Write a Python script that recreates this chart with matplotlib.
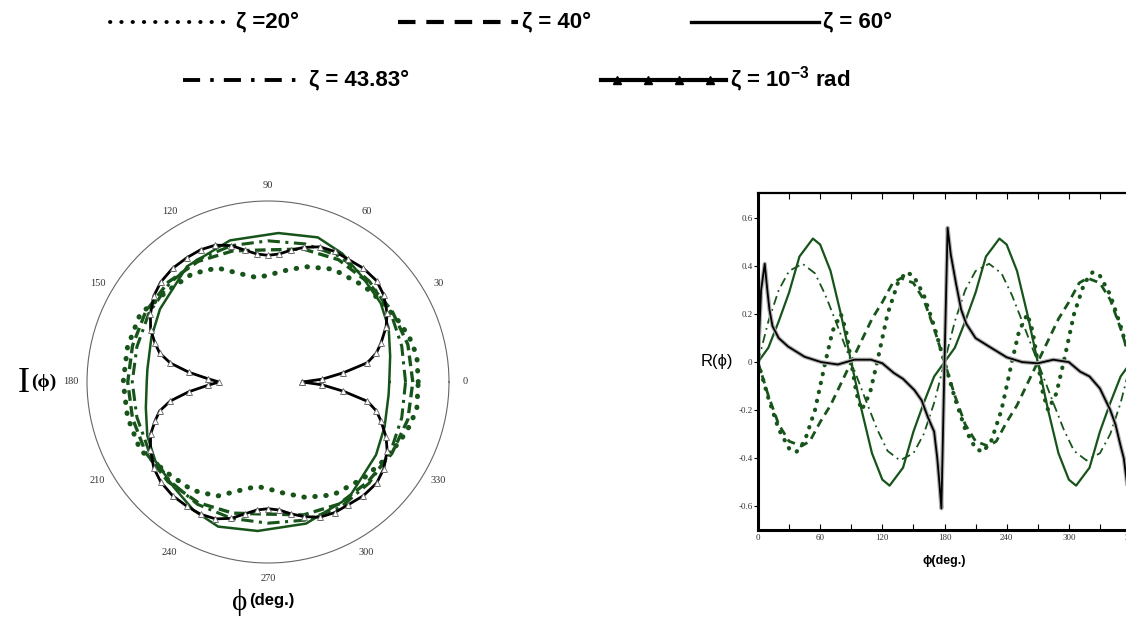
import numpy as np
import matplotlib
matplotlib.use("Agg")
import matplotlib.pyplot as plt
from matplotlib.lines import Line2D
import matplotlib.patheffects as pe

plt.rcParams["axes.unicode_minus"] = False
plt.rcParams["mathtext.fontset"] = "custom"
plt.rcParams["mathtext.bf"] = "Liberation Sans:bold"
plt.rcParams["mathtext.default"] = "bf"

GREEN = "#17541a"
SERIF = ["Liberation Serif", "DejaVu Serif"]
SANS = ["Liberation Sans", "DejaVu Sans"]

# ---------- left: I(phi), read for 0..180 deg (lower half is the mirror) ----------
i_z20_deg = [0, 10, 17, 24, 35, 45, 60, 72, 82, 90, 96, 103, 114, 125, 138, 152, 166, 180]
i_z20 = [0.83, 0.835, 0.82, 0.80, 0.77, 0.75, 0.72, 0.67, 0.62, 0.59, 0.58, 0.61, 0.69, 0.73, 0.75, 0.80, 0.80, 0.80]
i_deg = [0, 15, 30, 45, 60, 75, 90, 105, 120, 135, 150, 165, 180]
i_z40 = [0.80, 0.80, 0.79, 0.78, 0.78, 0.76, 0.73, 0.75, 0.77, 0.78, 0.78, 0.775, 0.775]
i_z4383 = [0.76, 0.765, 0.78, 0.79, 0.80, 0.79, 0.78, 0.78, 0.78, 0.77, 0.76, 0.75, 0.75]
i_small_deg = [0, 3, 7, 11, 15, 19, 25, 30, 37, 43, 50, 57, 63, 69, 75, 80, 85, 90, 95, 100,
               105, 111, 117, 123, 130, 137, 143, 150, 156, 161, 165, 169, 173, 177, 180]
i_small = [0.19, 0.30, 0.42, 0.56, 0.62, 0.66, 0.72, 0.76, 0.80, 0.82, 0.82, 0.81, 0.81, 0.80, 0.77, 0.74, 0.71, 0.70, 0.71, 0.74,
           0.78, 0.81, 0.82, 0.82, 0.82, 0.81, 0.79, 0.75, 0.71, 0.66, 0.62, 0.55, 0.44, 0.33, 0.27]
# zeta = 60 deg repeats every 180 deg
i_z60_deg = [0, 12, 24, 35, 48, 60, 71, 86, 105, 125, 146, 159, 174, 180]
i_z60 = [0.67, 0.69, 0.73, 0.76, 0.78, 0.82, 0.845, 0.825, 0.81, 0.78, 0.72, 0.69, 0.67, 0.67]

# ---------- right: R(phi), read for 0..180 deg (repeats every 180 deg) ----------
r_z20_deg = [0, 10, 20, 30, 37, 45, 55, 65, 72, 80, 85, 90, 95, 100, 108, 115, 125, 135, 143, 150, 160, 170, 180]
r_z20 = [0, -0.15, -0.28, -0.36, -0.375, -0.33, -0.2, 0, 0.13, 0.2, 0.13, 0, -0.13, -0.2, -0.13, 0, 0.2, 0.33, 0.375, 0.36, 0.28, 0.15, 0]
r_z40_deg = [0, 10, 20, 30, 42, 50, 60, 70, 80, 90, 100, 110, 120, 130, 138, 150, 160, 170, 180]
r_z40 = [0, -0.14, -0.26, -0.33, -0.35, -0.33, -0.25, -0.18, -0.09, 0, 0.09, 0.18, 0.25, 0.33, 0.35, 0.33, 0.26, 0.14, 0]
r_z60_deg = [0, 10, 20, 30, 40, 53, 60, 70, 80, 90, 100, 110, 120, 127, 140, 150, 160, 170, 180]
r_z60 = [0, 0.06, 0.17, 0.29, 0.44, 0.515, 0.49, 0.38, 0.2, 0, -0.2, -0.38, -0.49, -0.515, -0.44, -0.29, -0.17, -0.06, 0]
r_z4383_deg = [0, 10, 20, 30, 43, 55, 65, 75, 90, 105, 115, 125, 137, 150, 160, 170, 180]
r_z4383 = [0, 0.17, 0.3, 0.38, 0.41, 0.37, 0.28, 0.17, 0, -0.17, -0.28, -0.37, -0.41, -0.38, -0.3, -0.17, 0]
r_small_deg = [0, 3, 6.5, 9, 11, 14, 20, 29, 45, 61, 77, 93, 109, 120, 131, 140, 151, 158, 164, 170, 173, 175, 177,
               180, 183, 186, 191, 196, 201, 210, 223, 240, 255, 270, 285, 300, 311, 320, 330, 340, 345, 350, 353, 356, 358, 360]
r_small = [0, 0.3, 0.41, 0.3, 0.22, 0.15, 0.1, 0.065, 0.022, 0.0, -0.01, 0.01, 0.01, -0.005, -0.045, -0.07, -0.117, -0.16, -0.23, -0.29, -0.4, -0.5, -0.61,
           0.0, 0.56, 0.45, 0.33, 0.22, 0.16, 0.1, 0.065, 0.02, 0.0, -0.005, 0.01, 0.0, -0.04, -0.06, -0.11, -0.2, -0.26, -0.35, -0.4, -0.5, -0.6, 0]

legend_labels = ["ζ =20°", "ζ = 40°", "ζ = 60°", "ζ = 43.83°", r"ζ = 10$^{-3}$ rad"]


def mirror(deg, val):
    d = list(deg) + [360 - a for a in deg[-2::-1]]
    v = list(val) + list(val[-2::-1])
    return np.radians(d), np.array(v)


def repeat(deg, val):
    d = list(deg) + [a + 180 for a in deg[1:]]
    v = list(val) + list(val[1:])
    return np.array(d), np.array(v)


fig = plt.figure(figsize=(11.26, 6.19), dpi=100)

# ---------------- polar panel ----------------
ax = fig.add_axes([87 / 1126, 56 / 619, 362 / 1126, 362 / 619], projection="polar")
t, r = mirror(i_z20_deg, i_z20)
ax.plot(t, r, color=GREEN, lw=3.6, ls=(0, (0.1, 2.1)), dash_capstyle="round")
t, r = mirror(i_deg, i_z40)
ax.plot(t, r, color=GREEN, lw=2.4, ls=(0, (3.2, 1.6)))
t, r = mirror(i_deg, i_z4383)
ax.plot(t, r, color=GREEN, lw=2.2, ls=(0, (4, 1.8, 1, 1.8)))
d, r = repeat(i_z60_deg, i_z60)
ax.plot(np.radians(d), r, color=GREEN, lw=1.8)
t, r = mirror(i_small_deg, i_small)
ax.plot(t, r, color="black", lw=2.0, marker="^", ms=4, mfc="white", mec="#666666", mew=0.6)
ax.set_rlim(0, 1)
ax.set_yticks([])
ax.grid(False)
ax.set_thetagrids(range(0, 360, 30), labels=[str(a) for a in range(0, 360, 30)],
                  family=SERIF, fontsize=7.5, color="#333333")
ax.tick_params(axis="x", pad=1)
ax.spines["polar"].set_color("#666666")
ax.spines["polar"].set_linewidth(0.8)

fig.text(18 / 1126, 1 - 384 / 619, "I", family=SERIF, fontsize=26, va="center", ha="left")
fig.text(31 / 1126, 1 - 382 / 619, "(ϕ)", family=SERIF, fontsize=14, fontweight="bold", va="center", ha="left")
fig.text(232 / 1126, 1 - 603 / 619, "ϕ", family=SERIF, fontsize=21, va="center", ha="left")
fig.text(249 / 1126, 1 - 601 / 619, "(deg.)", family=SANS, fontsize=12, fontweight="bold", va="center", ha="left")

# ---------------- cartesian panel ----------------
bx = fig.add_axes([758 / 1126, 89 / 619, 373 / 1126, 337 / 619])
d, v = repeat(r_z20_deg, r_z20)
bx.plot(d, v, color=GREEN, lw=3.0, ls=(0, (0.1, 2.1)), dash_capstyle="round")
d, v = repeat(r_z40_deg, r_z40)
bx.plot(d, v, color=GREEN, lw=2.0, ls=(0, (3, 2)))
d, v = repeat(r_z4383_deg, r_z4383)
bx.plot(d, v, color=GREEN, lw=1.3, ls=(0, (5, 2.5, 1, 2.5)))
d, v = repeat(r_z60_deg, r_z60)
bx.plot(d, v, color=GREEN, lw=1.6)
bx.plot(r_small_deg, r_small, color="black", lw=1.3,
        path_effects=[pe.Stroke(linewidth=3.0, foreground="#b0b0b0"), pe.Normal()])
bx.set_xlim(0, 360)
bx.set_ylim(-0.7, 0.705)
bx.set_xticks(range(0, 361, 60))
bx.set_xticks(range(0, 361, 30), minor=True)
bx.set_yticks([-0.6, -0.4, -0.2, 0, 0.2, 0.4, 0.6])
bx.set_yticklabels(["-0.6", "-0.4", "-0.2", "0", "0.2", "0.4", "0.6"])
bx.tick_params(axis="x", which="both", direction="in", top=True, length=4, width=0.8,
               labelsize=6.5, labelcolor="#333333", pad=3)
bx.tick_params(axis="y", direction="out", length=3, width=0.8, labelsize=6.5, labelcolor="#333333", pad=1)
for lab in bx.get_xticklabels() + bx.get_yticklabels():
    lab.set_family(SERIF)
sec = bx.secondary_yaxis("right")
sec.set_yticks([-0.6, -0.4, -0.2, 0, 0.2, 0.4, 0.6])
sec.tick_params(direction="in", length=3, labelright=False)
for side, w in [("left", 2.2), ("bottom", 2.2), ("top", 1.6), ("right", 1.6)]:
    bx.spines[side].set_linewidth(w)
bx.set_xlabel("ϕ(deg.)", family=SANS, fontsize=9, fontweight="bold", labelpad=9)
bx.set_ylabel("R(ϕ)", family=SANS, fontsize=12, rotation=0, ha="center", va="center")
bx.yaxis.set_label_coords(-0.11, 0.5)

# ---------------- legend across the top ----------------
def key(x0, x1, y, text, **kw):
    yy = 1 - y / 619
    xs = np.linspace(x0 / 1126, x1 / 1126, 9)
    fig.add_artist(Line2D(xs, [yy] * len(xs), color="black", **kw))
    fig.text(x1 / 1126 + 4 / 1126, yy, text, family=SANS, fontsize=16, fontweight="bold",
             va="center", ha="left")

key(110, 232, 22, legend_labels[0], lw=2.8, ls=(0, (0.1, 2.8)), dash_capstyle="round")
key(398, 518, 22, legend_labels[1], lw=3.0, ls=(0, (4.2, 2.6)))
key(691, 819, 22, legend_labels[2], lw=2.4)
key(183, 305, 80, legend_labels[3], lw=2.8, ls=(0, (4.4, 2.6, 0.9, 2.6)))
key(601, 726, 80, legend_labels[4], lw=3.0, marker="^", ms=5.5, markevery=slice(1, 8, 2))

fig.savefig("out.png", dpi=100)
